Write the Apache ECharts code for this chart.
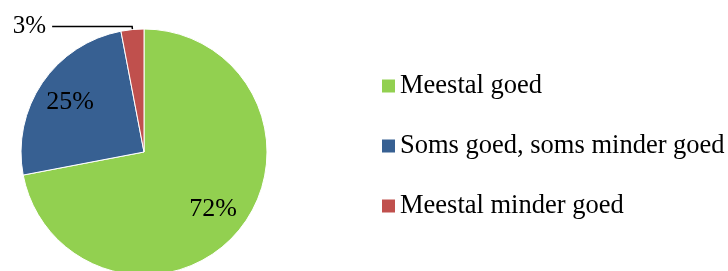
<!DOCTYPE html>
<html>
<head>
<meta charset="utf-8">
<script src="https://cdn.jsdelivr.net/npm/echarts@6/dist/echarts.min.js"></script>
<style>
  html, body { margin: 0; padding: 0; background: #fff; }
  #chart { width: 728px; height: 271px; }
</style>
</head>
<body>
<div id="chart"></div>
<script>
// antwoordcategorieën en percentages
const categories = ['Meestal goed', 'Soms goed, soms minder goed', 'Meestal minder goed'];
const values = [72, 25, 3];
const colors = ['#92D050', '#376092', '#C0504D'];

const FONT = '"Liberation Serif", "Times New Roman", serif';

const chart = echarts.init(document.getElementById('chart'));

// hoofdtaart: alleen het kleine segment krijgt een label buiten de taart
const pieData = categories.map((name, i) => ({
  name: name,
  value: values[i],
  itemStyle: { color: colors[i] },
  label: i === 2 ? { show: true, position: 'outside' } : { show: false },
  labelLine: { show: i === 2 }
}));

// transparante ring om de binnenlabels verder naar buiten te zetten
const labelData = categories.map((name, i) => ({
  name: name,
  value: values[i],
  label: { show: i !== 2 }
}));

chart.setOption({
  animation: false,
  legend: {
    orient: 'vertical',
    left: 382,
    top: 71,
    padding: 0,
    itemWidth: 13,
    itemHeight: 13,
    itemGap: 30,
    icon: 'rect',
    selectedMode: false,
    itemStyle: { borderWidth: 0 },
    textStyle: { fontFamily: FONT, fontSize: 26.5, lineHeight: 30, color: '#000' },
    data: categories.map((name, i) => ({ name: name, itemStyle: { color: colors[i], borderWidth: 0 } }))
  },
  series: [
    {
      type: 'pie',
      center: [144, 152],
      radius: [0, 123],
      startAngle: 90,
      clockwise: true,
      emphasis: { disabled: true },
      itemStyle: { borderColor: '#fff', borderWidth: 1 },
      label: {
        formatter: '{c}%',
        fontFamily: FONT,
        fontSize: 25,
        color: '#000',
        distanceToLabelLine: 6
      },
      labelLine: {
        length: 3,
        length2: 80,
        smooth: false,
        lineStyle: { color: '#000', width: 1.5 }
      },
      data: pieData
    },
    {
      type: 'pie',
      center: [144, 152],
      radius: [50, 123],
      startAngle: 90,
      clockwise: true,
      silent: true,
      z: 3,
      emphasis: { disabled: true },
      itemStyle: { color: 'transparent', borderWidth: 0 },
      label: {
        position: 'inside',
        formatter: '{c}%',
        fontFamily: FONT,
        fontSize: 26,
        color: '#000'
      },
      labelLine: { show: false },
      data: labelData
    }
  ]
});

window.addEventListener('resize', () => chart.resize());
</script>
</body>
</html>
